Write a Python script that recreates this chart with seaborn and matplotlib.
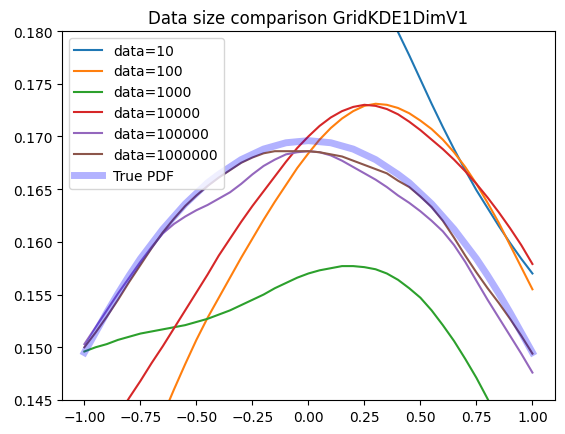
"""
Data size comparison for GridKDE1DimV1 (values read off the reference figure)
"""

import numpy as np
import pandas as pd
import matplotlib
matplotlib.use("Agg")
import matplotlib.pyplot as plt
import seaborn as sns

# === DATA ===
x_grid = [-1.00, -0.95, -0.90, -0.85, -0.80, -0.75, -0.70, -0.65, -0.60, -0.55, -0.50,
          -0.45, -0.40, -0.35, -0.30, -0.25, -0.20, -0.15, -0.10, -0.05, 0.00,
          0.05, 0.10, 0.15, 0.20, 0.25, 0.30, 0.35, 0.40, 0.45, 0.50,
          0.55, 0.60, 0.65, 0.70, 0.75, 0.80, 0.85, 0.90, 0.95, 1.00]

nan = np.nan
kde_10 = [nan, nan, nan, nan, nan, nan, nan, nan, nan, nan, nan,
          nan, nan, nan, nan, nan, nan, nan, nan, nan, nan,
          nan, nan, nan, nan, nan, 0.1845, 0.1822, 0.1799, 0.1777, 0.1754,
          0.1731, 0.1709, 0.1688, 0.1668, 0.1649, 0.1632, 0.1615, 0.1599, 0.1584, 0.1570]
kde_100 = [0.1275, 0.1297, 0.1320, 0.1342, 0.1365, 0.1387, 0.1410, 0.1435, 0.1460, 0.1484, 0.1507,
           0.1528, 0.1547, 0.1566, 0.1585, 0.1603, 0.1621, 0.1638, 0.1654, 0.1670, 0.1684,
           0.1697, 0.1708, 0.1717, 0.1724, 0.1729, 0.1731, 0.1730, 0.1727, 0.1722, 0.1715,
           0.1707, 0.1697, 0.1685, 0.1671, 0.1655, 0.1637, 0.1618, 0.1597, 0.1576, 0.1555]
kde_1000 = [0.1496, 0.1500, 0.1503, 0.1507, 0.1510, 0.1513, 0.1515, 0.1517, 0.1519, 0.1521, 0.1524,
            0.1527, 0.1531, 0.1535, 0.1540, 0.1545, 0.1550, 0.1556, 0.1561, 0.1566, 0.1570,
            0.1573, 0.1575, 0.1577, 0.1577, 0.1576, 0.1574, 0.1570, 0.1564, 0.1556, 0.1547,
            0.1535, 0.1521, 0.1506, 0.1489, 0.1471, 0.1451, 0.1429, 0.1405, 0.1380, 0.1352]
kde_10000 = [0.1385, 0.1401, 0.1418, 0.1435, 0.1452, 0.1468, 0.1485, 0.1501, 0.1518, 0.1535, 0.1552,
             0.1569, 0.1587, 0.1603, 0.1619, 0.1634, 0.1648, 0.1662, 0.1676, 0.1689, 0.1700,
             0.1710, 0.1718, 0.1724, 0.1728, 0.1730, 0.1729, 0.1726, 0.1721, 0.1714, 0.1706,
             0.1697, 0.1688, 0.1678, 0.1667, 0.1655, 0.1642, 0.1628, 0.1613, 0.1597, 0.1579]
kde_100000 = [0.1503, 0.1519, 0.1535, 0.1551, 0.1566, 0.1581, 0.1595, 0.1608, 0.1617, 0.1624, 0.1630,
              0.1635, 0.1641, 0.1647, 0.1655, 0.1664, 0.1672, 0.1678, 0.1683, 0.1685, 0.1686,
              0.1685, 0.1682, 0.1677, 0.1671, 0.1665, 0.1659, 0.1652, 0.1644, 0.1637, 0.1629,
              0.1620, 0.1610, 0.1597, 0.1581, 0.1563, 0.1545, 0.1528, 0.1511, 0.1494, 0.1476]
kde_1000000 = [0.1500, 0.1514, 0.1529, 0.1545, 0.1562, 0.1578, 0.1594, 0.1609, 0.1622, 0.1634, 0.1644,
               0.1653, 0.1661, 0.1668, 0.1675, 0.1680, 0.1684, 0.1686, 0.1686, 0.1686, 0.1686,
               0.1685, 0.1683, 0.1681, 0.1677, 0.1673, 0.1669, 0.1665, 0.1658, 0.1652, 0.1643,
               0.1633, 0.1620, 0.1604, 0.1587, 0.1571, 0.1556, 0.1542, 0.1527, 0.1511, 0.1494]
true_pdf = [0.1495, 0.1514, 0.1533, 0.1551, 0.1568, 0.1584, 0.1598, 0.1612, 0.1624, 0.1636, 0.1646,
            0.1656, 0.1664, 0.1671, 0.1678, 0.1683, 0.1688, 0.1691, 0.1694, 0.1695, 0.1696,
            0.1695, 0.1694, 0.1691, 0.1688, 0.1683, 0.1678, 0.1671, 0.1664, 0.1656, 0.1646,
            0.1636, 0.1624, 0.1612, 0.1598, 0.1584, 0.1568, 0.1551, 0.1533, 0.1514, 0.1495]

data_sizes = ["10", "100", "1000", "10000", "100000", "1000000"]
kde_series = [kde_10, kde_100, kde_1000, kde_10000, kde_100000, kde_1000000]

# === PLOT ===
fig, ax = plt.subplots(figsize=(5.65, 4.35), dpi=100)
fig.subplots_adjust(left=0.1097, right=0.982, top=0.9264, bottom=0.0782)

colors = sns.color_palette("tab10")
for i, (size, ys) in enumerate(zip(data_sizes, kde_series)):
    df = pd.DataFrame({"x": x_grid, "y": ys})
    sns.lineplot(data=df, x="x", y="y", color=colors[i], label=f"data={size}", ax=ax)

df_true = pd.DataFrame({"x": x_grid, "y": true_pdf})
sns.lineplot(data=df_true, x="x", y="y", color="blue", alpha=0.3, linewidth=5,
             label="True PDF", ax=ax)

ax.set_xlim(-1.1, 1.1)
ax.set_ylim(0.145, 0.180)
ax.set_xticks([-1.0, -0.75, -0.5, -0.25, 0.0, 0.25, 0.5, 0.75, 1.0])
ax.set_xlabel("")
ax.set_ylabel("")
ax.set_title("Data size comparison GridKDE1DimV1")
ax.legend(loc="upper left")

plt.savefig("out.png", dpi=100)
